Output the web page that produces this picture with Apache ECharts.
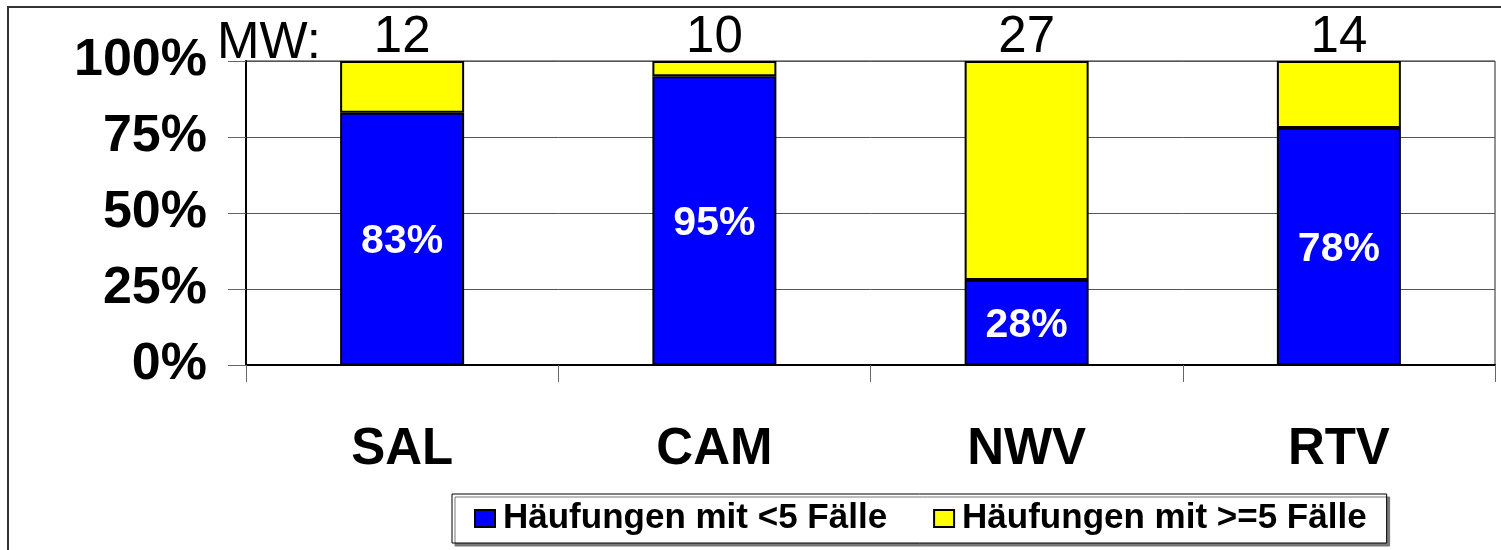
<!DOCTYPE html>
<html>
	<head>
		<meta charset="utf-8">
		<title></title>
		<script src="https://cdn.jsdelivr.net/npm/echarts@6/dist/echarts.min.js"></script>
		<style>
			body { margin: 0; background: #fff; }
		</style>
	</head>
	<body>
		<div id="my" style="width: 1501px;height:550px;"></div>

		<script>
			var categories = ['SAL', 'CAM', 'NWV', 'RTV'];
			var below5 = [0.83, 0.95, 0.28, 0.78];     // Häufungen mit <5 Fälle
			var atLeast5 = [0.17, 0.05, 0.72, 0.22];   // Häufungen mit >=5 Fälle
			var mwValues = [12, 10, 27, 14];           // MW über den Balken

			var font = 'Liberation Sans';
			var myChart = echarts.init(document.getElementById('my'));

			function pct(v) {
				return Math.round(v * 100) + '%';
			}

			var option = {
				backgroundColor: '#fff',
				animation: false,
				grid: {
					left: 246,
					right: 6,
					top: 61,
					bottom: 185,
					show: true,
					borderColor: '#222',
					borderWidth: 1
				},
				graphic: [
					{
						type: 'rect',
						z: -1,
						shape: { x: 8, y: 7, width: 1700, height: 700 },
						style: { fill: 'none', stroke: '#333', lineWidth: 2 }
					},
					{
						type: 'text',
						left: 217,
						top: 18,
						style: { text: 'MW:', font: '51px "Liberation Sans"', fill: '#000' }
					}
				],
				legend: {
					left: 452,
					top: 494,
					padding: [7, 20, 7, 22],
					itemGap: 46,
					itemWidth: 20,
					itemHeight: 17,
					icon: 'rect',
					backgroundColor: '#fff',
					borderColor: '#000',
					borderWidth: 1,
					shadowColor: '#777',
					shadowOffsetX: 3,
					shadowOffsetY: 3,
					shadowBlur: 0,
					textStyle: {
						fontFamily: font,
						fontWeight: 'bold',
						fontSize: 35,
						color: '#000',
						padding: [0, 0, 0, 3]
					},
					data: ['Häufungen mit <5 Fälle', 'Häufungen mit >=5 Fälle']
				},
				xAxis: {
					type: 'category',
					data: categories,
					axisLine: { lineStyle: { color: '#000', width: 2 } },
					axisTick: { show: true, length: 17, lineStyle: { color: '#666' } },
					axisLabel: {
						margin: 59,
						fontFamily: font,
						fontWeight: 'bold',
						fontSize: 51,
						color: '#000'
					}
				},
				yAxis: {
					type: 'value',
					min: 0,
					max: 1,
					interval: 0.25,
					axisLine: { show: true, lineStyle: { color: '#000', width: 2 } },
					axisTick: { show: true, length: 18, lineStyle: { color: '#666' } },
					splitLine: { lineStyle: { color: '#555', width: 1 } },
					axisLabel: {
						margin: 39,
						fontFamily: font,
						fontWeight: 'bold',
						fontSize: 52,
						color: '#000',
						formatter: pct
					}
				},
				series: [
					{
						name: 'Häufungen mit <5 Fälle',
						type: 'bar',
						stack: 'all',
						barWidth: 124,
						data: below5,
						itemStyle: { color: '#0000FF', borderColor: '#000', borderWidth: 2 },
						label: {
							show: true,
							position: 'inside',
							offset: [0, 3],
							fontFamily: font,
							fontWeight: 'bold',
							fontSize: 41,
							color: '#fff',
							formatter: function (p) { return pct(p.value); }
						}
					},
					{
						name: 'Häufungen mit >=5 Fälle',
						type: 'bar',
						stack: 'all',
						barWidth: 124,
						data: atLeast5,
						itemStyle: { color: '#FFFF00', borderColor: '#000', borderWidth: 2 },
						label: {
							show: true,
							position: 'top',
							distance: -2,
							fontFamily: font,
							fontSize: 51,
							color: '#000',
							formatter: function (p) { return mwValues[p.dataIndex]; }
						}
					}
				]
			};

			myChart.setOption(option);
		</script>
	</body>
</html>
